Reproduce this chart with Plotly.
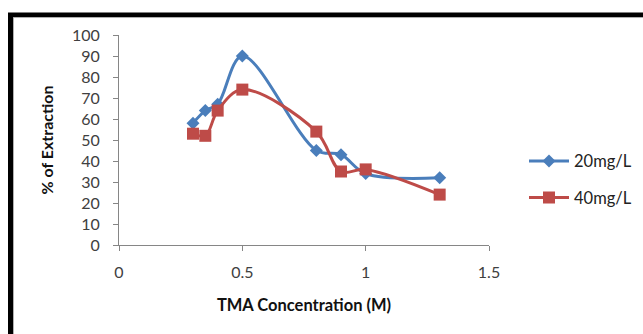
import plotly.graph_objects as go

x_vals = [0.3, 0.35, 0.4, 0.5, 0.8, 0.9, 1.0, 1.3]
s20 = [58, 64, 67, 90, 45, 43, 34, 32]
s40 = [53, 52, 64, 74, 54, 35, 36, 24]
x_ticks = [0, 0.5, 1, 1.5]
x_tick_labels = ["0", "0.5", "1", "1.5"]
y_ticks = list(range(0, 101, 10))

W, H = 643, 334
L, R, T, B = 119, 154, 35, 88.5
pw, ph = W - L - R, H - T - B

def px(x):
    return (x - L) / pw

def py(y):
    return (H - B - y) / ph

FONT = "Lato"
blue = "#4a7ebb"
red = "#be4b48"

fig = go.Figure()
fig.add_trace(go.Scatter(
    x=x_vals, y=s20, name="20mg/L", mode="lines+markers",
    line=dict(color=blue, width=3, shape="spline", smoothing=1.0),
    marker=dict(symbol="diamond", size=10, color=blue),
    legendgroup="a",
))
fig.add_trace(go.Scatter(
    x=x_vals, y=s40, name="40mg/L", mode="lines+markers",
    line=dict(color=red, width=3, shape="spline", smoothing=1.0),
    marker=dict(symbol="square", size=12, color=red),
    legendgroup="b",
))

axis_common = dict(
    showgrid=False, zeroline=False, showline=True, linecolor="#868686", linewidth=1,
    ticks="outside", ticklen=5, tickcolor="#868686", automargin=False,
    tickfont=dict(family=FONT, size=16, color="#404040"),
)
fig.update_xaxes(range=[0, 1.5], tickvals=x_ticks, ticktext=x_tick_labels,
                 ticklabelstandoff=8,
                 title=dict(text="<b>TMA Concentration (M)</b>", font=dict(family=FONT, size=16.5, color="#111"), standoff=19),
                 **axis_common)
fig.update_yaxes(range=[0, 100], tickvals=y_ticks,
                 ticklabelstandoff=10,
                 title=dict(text="<b>% of Extraction</b>", font=dict(family=FONT, size=16, color="#111"), standoff=14),
                 **axis_common)

shapes = [
    dict(type="rect", xref="paper", yref="paper",
         x0=px(10.5), x1=px(700), y0=py(15), y1=py(400),
         line=dict(color="black", width=5)),
    dict(type="line", xref="paper", yref="paper",
         x0=px(13.5), x1=px(13.5), y0=py(17.5), y1=py(400),
         line=dict(color="#b0b0b0", width=1)),
    dict(type="line", xref="paper", yref="paper",
         x0=px(13.5), x1=px(700), y0=py(17.5), y1=py(17.5),
         line=dict(color="#b0b0b0", width=1)),
]

fig.update_layout(
    width=W, height=H,
    margin=dict(l=L, r=R, t=T, b=B, autoexpand=False),
    paper_bgcolor="white", plot_bgcolor="white",
    shapes=shapes,
    font=dict(family=FONT, size=14, color="#222"),
    legend=dict(x=px(524), y=py(144), xanchor="left", yanchor="top",
                traceorder="grouped", tracegroupgap=12, itemwidth=40,
                font=dict(family=FONT, size=16.5, color="#222"),
                bgcolor="rgba(0,0,0,0)"),
)

fig.write_html("out.html")
